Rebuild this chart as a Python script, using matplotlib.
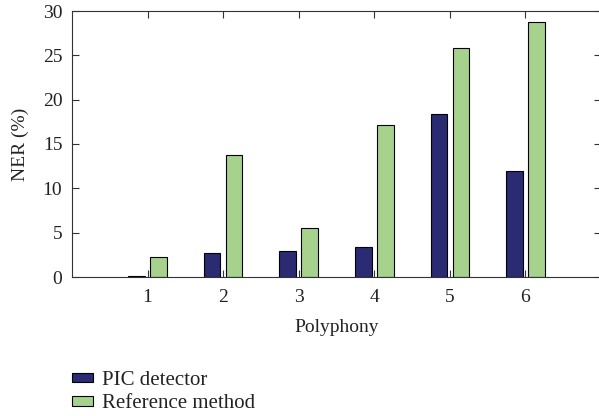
import numpy as np
import matplotlib
matplotlib.use("Agg")
import matplotlib.pyplot as plt

plt.rcParams["font.family"] = ["Liberation Serif", "DejaVu Serif"]

polyphony = [1, 2, 3, 4, 5, 6]
pic_detector = [0.1, 2.7, 2.9, 3.4, 18.4, 11.9]
reference_method = [2.3, 13.75, 5.5, 17.1, 25.8, 28.75]

fig = plt.figure(figsize=(5.99, 4.16), dpi=100)
ax = fig.add_axes([72 / 599, 1 - 277 / 416, 529 / 599, 266 / 416])

x = np.array(polyphony)
w = 0.22
ax.bar(x - 0.145, pic_detector, w, color="#2a2b73", edgecolor="black", linewidth=0.8,
       label="PIC detector")
ax.bar(x + 0.145, reference_method, w, color="#a6d28e", edgecolor="black", linewidth=0.8,
       label="Reference method")

ax.set_xlim(0, 7)
ax.set_ylim(0, 30)
ax.set_xticks(polyphony)
ax.set_yticks(range(0, 31, 5))
ax.tick_params(direction="in", top=True, right=True, labelsize=14, colors="#333333",
               length=5, width=0.8, pad=7)
ax.tick_params(axis="x", pad=9)
ax.tick_params(axis="both", labelcolor="#222222")
for s in ax.spines.values():
    s.set_color("#333333")
    s.set_linewidth(0.8)

ax.set_xlabel("Polyphony", fontsize=14, color="#222222", labelpad=9)
ax.set_ylabel("NER (%)", fontsize=14, color="#222222", labelpad=10)

fig.legend(loc="upper left", bbox_to_anchor=(72 / 599, 1 - 371 / 416), frameon=False,
           fontsize=15, handlelength=1.0, handleheight=0.35, handletextpad=0.45,
           labelspacing=0.2, borderpad=0, borderaxespad=0, labelcolor="#222222")

fig.savefig("out.png", dpi=100)
